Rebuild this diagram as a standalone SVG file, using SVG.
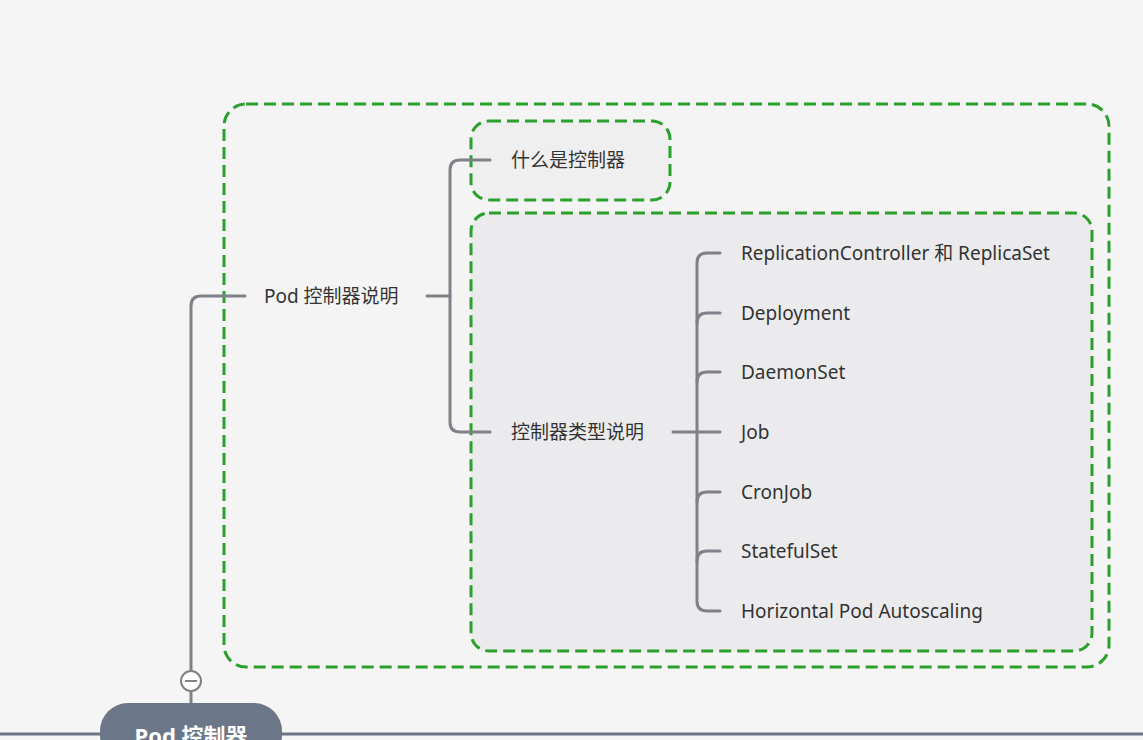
<svg xmlns="http://www.w3.org/2000/svg" width="1143" height="740" viewBox="0 0 1143 740">
<style>
.t{font-family:"Noto Sans","Noto Sans CJK SC",sans-serif;font-size:19px;fill:#333;dominant-baseline:central}
.box{stroke:#2ca02c;stroke-width:3;stroke-dasharray:12 6}
.ln{fill:none;stroke:#808188;stroke-width:3;stroke-linecap:round}
</style>
<rect width="1143" height="740" fill="#f4f5f4"/>
<g id="group-outer"><rect class="box" x="224" y="104" width="885" height="563" rx="22" fill="#f4f4f4"/></g>
<g id="group-what"><rect class="box" x="471" y="121" width="199" height="79" rx="18" fill="#efeff0"/></g>
<g id="group-types"><rect class="box" x="471" y="213" width="621" height="438" rx="18" fill="#ebebed"/></g>
<g id="connectors">
<line x1="0" y1="734" x2="1143" y2="734" stroke="#6b7585" stroke-width="3"/>
<path class="ln" d="M191,705 V691 M191,671 V306 Q191,296 201,296 H245"/>
<path class="ln" d="M427,296 H450"/>
<path class="ln" d="M490,160 H460 Q450,160 450,170 V422 Q450,432 460,432 H490"/>
<path class="ln" d="M673,432 H720"/>
<path class="ln" d="M720,253 H707 Q697,253 697,263 V601 Q697,611 707,611 H720"/>
<path class="ln" d="M720,313 H707 Q697,313 697,323 M720,372 H707 Q697,372 697,382 M720,492 H707 Q697,492 697,502 M720,551 H707 Q697,551 697,561"/>
</g>
<g id="collapse"><circle cx="191" cy="681" r="10" fill="#fff" stroke="#808188" stroke-width="2"/><line x1="185" y1="681" x2="197" y2="681" stroke="#808188" stroke-width="2"/></g>
<g id="node-root"><rect x="100" y="703" width="182" height="60" rx="28" fill="#6b7789"/><text x="191" y="735" text-anchor="middle" font-family="Noto Sans,Noto Sans CJK SC,sans-serif" font-size="22" font-weight="bold" fill="#fff" dominant-baseline="central">Pod 控制器</text></g>
<g id="node-desc"><text class="t" x="264" y="296">Pod 控制器说明</text></g>
<g id="node-what"><text class="t" x="511" y="160">什么是控制器</text></g>
<g id="node-types"><text class="t" x="511" y="432">控制器类型说明</text></g>
<g id="node-rc"><text class="t" x="741" y="253">ReplicationController 和 ReplicaSet</text></g>
<g id="node-deploy"><text class="t" x="741" y="313">Deployment</text></g>
<g id="node-ds"><text class="t" x="741" y="372">DaemonSet</text></g>
<g id="node-job"><text class="t" x="741" y="432">Job</text></g>
<g id="node-cron"><text class="t" x="741" y="492">CronJob</text></g>
<g id="node-ss"><text class="t" x="741" y="551">StatefulSet</text></g>
<g id="node-hpa"><text class="t" x="741" y="611">Horizontal Pod Autoscaling</text></g>
</svg>
